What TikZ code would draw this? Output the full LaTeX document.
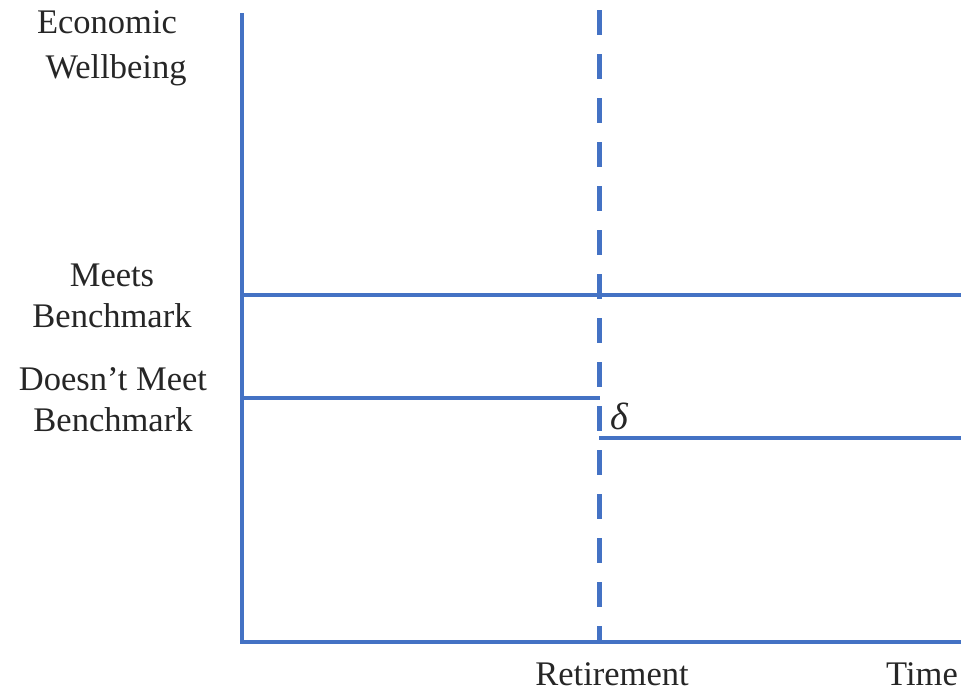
\documentclass[tikz,border=0pt]{standalone}
\usepackage{fontspec}
\setmainfont{Liberation Serif}
\definecolor{axisblue}{RGB}{68,114,196}
\begin{document}
\begin{tikzpicture}[x=1pt,y=-1pt,
  lbl/.style={font=\fontsize{34.5}{41}\selectfont, align=center, inner sep=0pt, text=black!85},
  bline/.style={draw=axisblue, line width=4.6pt},
  dline/.style={draw=axisblue, line width=5pt, dash pattern=on 25pt off 19pt}]
\useasboundingbox (0,0) rectangle (961,694);
% key points
\coordinate (ytop) at (242,13);
\coordinate (origin) at (242,642);
\coordinate (xend) at (961,642);
\coordinate (rtop) at (599,10);
\coordinate (rbot) at (599,642);
\coordinate (mL) at (242,295);
\coordinate (mR) at (961,295);
\coordinate (dL) at (242,398);
\coordinate (dR) at (600,398);
\coordinate (lL) at (599,438);
\coordinate (lR) at (961,438);
% axes
\draw[bline] (ytop) -- (origin) -- (xend);
\draw[dline] (rtop) -- (rbot);
\draw[bline] (mL) -- (mR);
\draw[bline] (dL) -- (dR);
\draw[bline] (lL) -- (lR);
% labels
\node[lbl, font=\fontsize{34.5}{45}\selectfont] (econ) at (107,48) {Economic\\\hspace*{18pt}Wellbeing};
\node[lbl] (meets) at (112,296) {Meets\\Benchmark};
\node[lbl] (doesnt) at (113,400) {Doesn’t Meet\\Benchmark};
\node[lbl] (retire) at (612,674) {Retirement};
\node[lbl] (time) at (922,674) {Time};
\node[lbl, font=\fontsize{38}{40}\selectfont\itshape] (delta) at (619,416) {δ};
\end{tikzpicture}
\end{document}
